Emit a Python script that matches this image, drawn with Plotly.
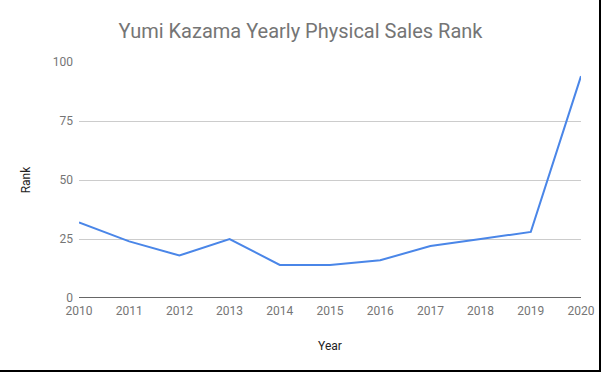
import plotly.graph_objects as go

years = [2010, 2011, 2012, 2013, 2014, 2015, 2016, 2017, 2018, 2019, 2020]
rank = [32, 24, 18, 25, 14, 14, 16, 22, 25, 28, 94]
y_ticks = [0, 25, 50, 75, 100]

W, H = 601, 372
ML, MR, MT, MB = 79, 20, 62, 74
PW, PH = W - ML - MR, H - MT - MB

def px_x(x):
    return (x - ML) / PW

def px_y(y):
    return (H - MB - y) / PH

fig = go.Figure()
fig.add_trace(go.Scatter(
    x=years, y=rank, mode="lines",
    line=dict(color="#4a86e8", width=2),
    hoverinfo="skip", showlegend=False,
))

fig.update_layout(
    width=W, height=H,
    margin=dict(l=ML, r=MR, t=MT, b=MB, autoexpand=False),
    paper_bgcolor="white", plot_bgcolor="white",
    font=dict(family="Roboto", color="#757575", size=12),
    title=dict(text="Yumi Kazama Yearly Physical Sales Rank",
               x=0.5, xanchor="center", y=1 - 31 / H, yanchor="middle",
               font=dict(size=20, color="#757575", family="Roboto")),
    xaxis=dict(
        range=[2010, 2020], tickvals=years, ticktext=[str(v) for v in years],
        showgrid=False, zeroline=False, showline=False, ticks="",
        automargin=False, ticklabelstandoff=4,
        tickfont=dict(size=12, color="#757575"),
        title=dict(text="Year", font=dict(size=12, color="#222222"), standoff=24),
    ),
    yaxis=dict(
        range=[0, 100], tickvals=y_ticks,
        showgrid=True, gridcolor="#cccccc", gridwidth=1,
        zeroline=False, showline=False, ticks="",
        automargin=False, ticklabelstandoff=5,
        tickfont=dict(size=12, color="#757575"),
        title=dict(text="Rank", font=dict(size=12, color="#222222"), standoff=19),
    ),
    shapes=[
        dict(type="line", xref="paper", yref="y", x0=0, x1=1, y0=0, y1=0,
             line=dict(color="#333333", width=1.5)),
        dict(type="rect", xref="paper", yref="paper",
             x0=px_x(599), x1=px_x(601), y0=px_y(0), y1=px_y(372),
             fillcolor="black", line=dict(width=0)),
        dict(type="rect", xref="paper", yref="paper",
             x0=px_x(0), x1=px_x(601), y0=px_y(370), y1=px_y(372),
             fillcolor="black", line=dict(width=0)),
    ],
)

body = fig.to_html(full_html=False, include_plotlyjs=True,
                   config={"displayModeBar": False})
html = ("<!DOCTYPE html><html><head><meta charset='utf-8'>"
        "<style>html,body{margin:0;padding:0;overflow:hidden;background:white;}</style>"
        "</head><body>" + body + "</body></html>")
with open("out.html", "w", encoding="utf-8") as f:
    f.write(html)
